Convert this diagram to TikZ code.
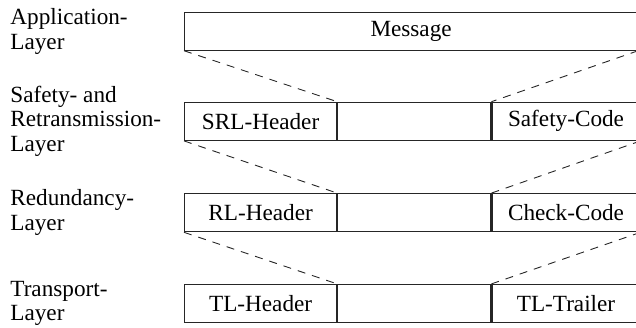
\documentclass[tikz,border=0pt]{standalone}
\usepackage{fontspec}
\setmainfont{Liberation Serif}
\newfontfamily\fieldfont{Liberation Serif}
\usepackage{tikz}
\usetikzlibrary{positioning}
\tikzset{
    field/.style={
           rectangle,
           draw=black!85,
           line width=0.6pt,
           minimum height=19pt,
           inner sep=0pt,
           text centered,
           },
    layer/.style={
           align=left,
           anchor=west,
           inner sep=0pt,
           },
    link/.style={
           draw=black!85,
           line width=0.45pt,
           dash pattern=on 4pt off 3.5pt,
           },
}

\begin{document}
\begin{tikzpicture}[font=\fieldfont\fontsize{11.6}{12.4}\selectfont]
 \useasboundingbox (0,0) rectangle (318pt,-163.5pt);

 % message on top
 \node[field, anchor=north west, minimum width=226.5pt] (MSG)
   at (92pt,-5.75pt) {Message};

 % safety and retransmission layer
 \node[field, minimum width=76pt,
 below=25.5pt of MSG.south west, anchor=north west,
 ] (SRLH) {SRL-Header};
 \node[field, minimum width=76.5pt, right=0pt of SRLH] (SRLP) {};
 \node[field, minimum width=74pt, right=0pt of SRLP] (SRLT) {Safety-Code};

 % redundancy layer
 \node[field, minimum width=76pt,
 below=26.1pt of SRLH.south west, anchor=north west,
 ] (RLH) {RL-Header};
 \node[field, minimum width=76.5pt, right=0pt of RLH] (RLP) {};
 \node[field, minimum width=74pt, right=0pt of RLP] (RLT) {Check-Code};

 % transport layer
 \node[field, minimum width=76pt,
 below=25.8pt of RLH.south west, anchor=north west,
 ] (TLH) {TL-Header};
 \node[field, minimum width=76.5pt, right=0pt of TLH] (TLP) {};
 \node[field, minimum width=74pt, right=0pt of TLP] (TLT) {TL-Trailer};

 % layer names
 \node[layer] (APPL) at (5pt,|-MSG.center) {Application-\\Layer};
 \node[layer] (SRLL) at (5pt,|-SRLH.center) {Safety- and\\Retransmission-\\Layer};
 \node[layer] (RLL) at (5pt,|-RLH.center) {Redundancy-\\Layer};
 \node[layer] (TLL) at (5pt,|-TLH.center) {Transport-\\Layer};

 \path (MSG.south west) edge[link] (SRLH.north east)
   (MSG.south east) edge[link] (SRLT.north west)
   (SRLH.south west) edge[link] (RLH.north east)
   (SRLT.south east) edge[link] (RLT.north west)
   (RLH.south west) edge[link] (TLH.north east)
   (RLT.south east) edge[link] (TLT.north west)
 ;
\end{tikzpicture}
\end{document}
